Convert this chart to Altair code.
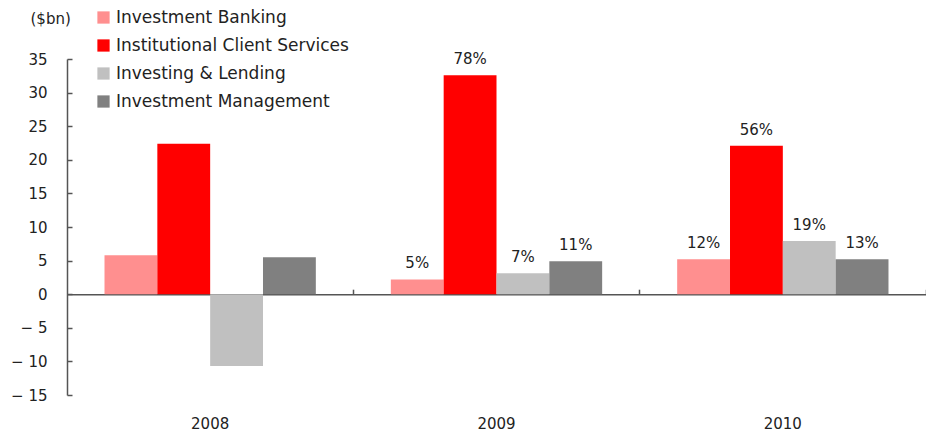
import altair as alt
import pandas as pd

years = ["2008", "2009", "2010"]
segments = ["Investment Banking", "Institutional Client Services",
            "Investing & Lending", "Investment Management"]
ib = [5.8, 2.2, 5.2]
ics = [22.4, 32.6, 22.1]
il = [-10.7, 3.1, 7.9]
im = [5.5, 4.9, 5.2]
pct_ib = ["", "5%", "12%"]
pct_ics = ["", "78%", "56%"]
pct_il = ["", "7%", "19%"]
pct_im = ["", "11%", "13%"]
colors = ["#FF8F8F", "#FF0000", "#C0C0C0", "#808080"]

rows = []
for seg, vals, pcts in zip(segments, [ib, ics, il, im], [pct_ib, pct_ics, pct_il, pct_im]):
    for y, v, p in zip(years, vals, pcts):
        rows.append({"year": y, "segment": seg, "value": v, "pct": p})
df = pd.DataFrame(rows)

FONT = "DejaVu Sans"
AXC = "#555555"
W, H = 859, 336
ymin, ymax = -15, 35
zero_off = -H * ymax / (ymax - ymin)
yticks = list(range(-15, 40, 5))

xscale = alt.Scale(paddingInner=0, paddingOuter=0)
yscale = alt.Scale(domain=[ymin, ymax], nice=False, zero=False)
offscale = alt.Scale(domain=segments, paddingInner=0, paddingOuter=0.71)

base = alt.Chart(df)

bars = base.mark_bar().encode(
    x=alt.X("year:N", scale=xscale, sort=years,
            axis=alt.Axis(orient="bottom", title=None, domain=False, ticks=False,
                          grid=False, labelAngle=0, labelPadding=21, labelFontSize=15,
                          labelFont=FONT, labelColor="#222")),
    xOffset=alt.XOffset("segment:N", scale=offscale, sort=segments),
    y=alt.Y("value:Q", scale=yscale,
            axis=alt.Axis(orient="left", values=yticks,
                          domain=False, ticks=False, grid=False, labelPadding=20,
                          labelFontSize=15, labelFont=FONT, labelColor="#222",
                          labelExpr="datum.value < 0 ? '\u2212 ' + abs(datum.value) : datum.label",
                          title="($bn)", titleAngle=0, titleAlign="left",
                          titleBaseline="middle", titleX=-37, titleY=-41,
                          titleFont=FONT, titleFontSize=15, titleFontWeight="normal",
                          titleColor="#222")),
    color=alt.Color("segment:N", sort=segments,
                    scale=alt.Scale(domain=segments, range=colors),
                    legend=alt.Legend(orient="none", legendX=28, legendY=-50,
                                      title=None, symbolType="square", symbolSize=150,
                                      symbolStrokeWidth=0, symbolOpacity=1,
                                      labelFont=FONT, labelFontSize=17, labelColor="#222",
                                      labelOffset=4, labelLimit=0, rowPadding=10,
                                      padding=0)),
)

labels = base.mark_text(baseline="bottom", dy=-8, font=FONT, fontSize=15,
                        color="#222").encode(
    x=alt.X("year:N", scale=xscale, sort=years, axis=None),
    xOffset=alt.XOffset("segment:N", scale=offscale, sort=segments),
    y=alt.Y("value:Q", scale=yscale, axis=None),
    text="pct:N",
)

# axis lines: y axis line with inward ticks, x zero line with ticks at band edges
axis_layer = base.mark_bar(opacity=0).encode(
    x=alt.X("year:N", scale=xscale, sort=years,
            axis=alt.Axis(orient="top", offset=zero_off, title=None, labels=False,
                          domainColor=AXC, domainWidth=1.5, tickColor=AXC,
                          tickSize=5, tickWidth=1.5, bandPosition=1, grid=False)),
    y=alt.Y("value:Q", scale=yscale,
            axis=alt.Axis(orient="right", offset=-W, title=None, labels=False,
                          values=yticks, grid=False,
                          domainColor=AXC, domainWidth=1.5, tickColor=AXC,
                          tickSize=5, tickWidth=1.5)),
)

chart = alt.layer(bars, labels, axis_layer).resolve_axis(
    x="independent", y="independent"
).properties(
    width=W, height=H,
    background="white",
    autosize=alt.AutoSizeParams(type="none"),
    padding={"left": 59, "top": 51, "right": 0, "bottom": 37},
).configure_view(strokeWidth=0, stroke="transparent")

chart.save("out.html", embed_options={"renderer": "svg", "actions": False})
